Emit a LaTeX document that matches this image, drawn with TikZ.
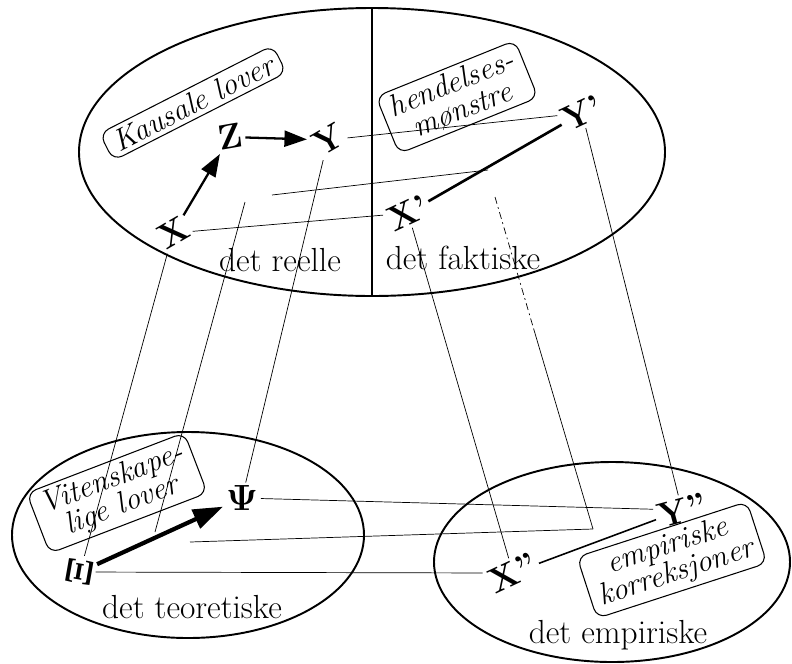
\documentclass[tikz,border=0pt]{standalone}
\usepackage{amsmath}
\usepackage{tikz}
\usetikzlibrary{arrows.meta,shapes.geometric}

\tikzset{
  sphere/.style={draw, ellipse, line width=1.1pt, inner sep=0pt},
  lawbox/.style={draw, rounded corners=2mm, line width=0.6pt, inner xsep=5pt, inner ysep=2.5pt,
    align=center, font=\fontsize{17.5}{16}\selectfont\itshape},
  var/.style={inner sep=1.5pt, font=\fontsize{20}{20}\selectfont\bfseries},
  realm/.style={font=\fontsize{19}{21}\selectfont},
  link/.style={line width=0.4pt},
  cause/.style={line width=1.3pt, -{Triangle[length=4.5mm, width=3.2mm]}},
}

\begin{document}
\begin{tikzpicture}[x=0.2mm, y=-0.2mm]
  \useasboundingbox (0,0) rectangle (792,663);

  % the three domains
  \node[sphere, minimum width=117.2mm, minimum height=57.6mm] (top) at (372,152) {};
  \node[sphere, minimum width=70.4mm, minimum height=41.2mm] (theory) at (188,535) {};
  \node[sphere, minimum width=71.2mm, minimum height=40mm] (empiri) at (612,562) {};
  \draw[line width=0.9pt] (top.north) -- (top.south);

  % domain names
  \node[realm] (reell) at (280,260) {det reelle};
  \node[realm] (fakt) at (463,258) {det faktiske};
  \node[realm] (teor) at (192,607) {det teoretiske};
  \node[realm] (emp) at (618,635) {det empiriske};

  % boxed labels
  \node[lawbox, rotate=27] (kaus) at (193,103) {Kausale lover};
  \node[lawbox, rotate=22] (hend) at (457,97) {hendelses-\\mønstre};
  \node[lawbox, rotate=21] (vit) at (117,493) {Vitenskape-\\lige lover};
  \node[lawbox, rotate=18] (korr) at (672,560) {empiriske\\korreksjoner};

  % variables
  \node[var, rotate=30] (X) at (173,233) {X};
  \node[var, rotate=10] (Z) at (230,137) {Z};
  \node[var, rotate=30] (Y) at (328,140) {Y};
  \node[var, rotate=25] (Xp) at (408,213) {X’};
  \node[var, rotate=25] (Yp) at (582,113) {Y’};
  \node[var] (Psi) at (242,498) {$\mathbf{\Psi}$};
  \node[var, rotate=80] (Xi) at (80,572) {$\mathbf{\Xi}$};
  \node[var, rotate=25] (Xpp) at (513,573) {X”};
  \node[var, rotate=15] (Ypp) at (682,510) {Y”};

  % loose ends of the unnamed mechanism
  \coordinate (a1) at (272,195);
  \coordinate (a2) at (488,170);
  \coordinate (b1) at (245,202);
  \coordinate (b2) at (155,532);
  \coordinate (c1) at (495,197);
  \coordinate (cm) at (534,330);
  \coordinate (c2) at (593,529);
  \coordinate (d1) at (190,542);

  % causal arrows and patterns
  \draw[cause] (X) -- (Z);
  \draw[cause] (Z) -- (Y);
  \draw[line width=1.5pt] (Xp) -- (Yp);
  \draw[line width=2.4pt, -{Triangle[length=6mm, width=4mm]}] (Xi) -- (Psi);
  \draw[line width=0.9pt] (Xpp) -- (Ypp);

  % across the domains
  \draw[link] (Y) -- (Yp);
  \draw[link] (a1) -- (a2);
  \draw[link] (X) -- (Xp);
  \draw[link] (Psi) -- (Ypp);
  \draw[link] (d1) -- (c2);
  \draw[link] (Xi) -- (Xpp);

  % down to theory and observation
  \draw[link] (X) -- (Xi);
  \draw[link] (b1) -- (b2);
  \draw[link] (Y) -- (Psi);
  \draw[link] (Xp) -- (Xpp);
  \draw[link, dash pattern=on 4pt off 2pt on 1pt off 2pt] (c1) -- (cm);
  \draw[link] (cm) -- (c2);
  \draw[link] (Yp) -- (Ypp);
\end{tikzpicture}
\end{document}
